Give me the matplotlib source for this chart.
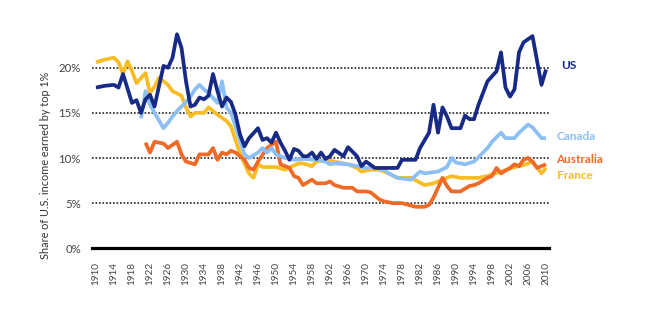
import matplotlib
matplotlib.use("Agg")
import matplotlib.pyplot as plt

plt.rcParams['font.family'] = ['Lato', 'DejaVu Sans']

# top 1% income share (year, percent)
us_years = [1910, 1912, 1914, 1915, 1916, 1918, 1919, 1920, 1921, 1922, 1923, 1925, 1926, 1927,
            1928, 1929, 1930, 1931, 1932, 1933, 1934, 1935, 1936, 1937, 1938, 1939, 1940, 1941,
            1942, 1943, 1944, 1946, 1947, 1948, 1949, 1950, 1951, 1952, 1953, 1954, 1955, 1956,
            1957, 1958, 1959, 1960, 1961, 1962, 1963, 1965, 1966, 1968, 1969, 1970, 1972, 1973,
            1975, 1977, 1978, 1979, 1981, 1982, 1984, 1985, 1986, 1987, 1988, 1989, 1991, 1992,
            1993, 1994, 1995, 1997, 1999, 2000, 2001, 2002, 2003, 2004, 2005, 2007, 2009, 2010]
us_share = [17.8, 18.0, 18.1, 17.8, 19.3, 16.1, 16.4, 15.0, 16.5, 17.0, 15.7, 20.2, 20.0, 21.1,
            23.7, 22.2, 18.5, 15.7, 15.9, 16.7, 16.5, 16.9, 19.3, 17.4, 15.7, 16.7, 16.2, 14.8,
            12.6, 11.3, 12.2, 13.3, 12.0, 12.2, 11.7, 12.8, 11.7, 10.8, 9.8, 11.0, 10.8, 10.2,
            10.2, 10.6, 9.9, 10.6, 9.9, 10.2, 10.9, 10.2, 11.2, 10.2, 9.1, 9.6, 8.9, 8.9,
            8.9, 8.9, 9.8, 9.8, 9.8, 11.1, 12.8, 15.9, 12.8, 15.6, 14.6, 13.3, 13.3, 14.7,
            14.3, 14.3, 15.9, 18.5, 19.6, 21.7, 17.8, 16.8, 17.6, 21.7, 22.8, 23.5, 18.1, 19.8]

canada_years = [1920, 1921, 1922, 1923, 1925, 1926, 1927, 1928, 1929, 1930, 1931, 1932, 1933,
                1934, 1935, 1937, 1938, 1939, 1940, 1941, 1943, 1944, 1946, 1947, 1948, 1949,
                1950, 1952, 1954, 1956, 1959, 1961, 1962, 1963, 1966, 1968, 1970, 1972, 1974,
                1975, 1977, 1980, 1982, 1983, 1986, 1988, 1989, 1990, 1992, 1994, 1995, 1997,
                1998, 2000, 2001, 2003, 2004, 2006, 2007, 2009, 2010]
canada_share = [14.4, 17.4, 15.9, 15.0, 13.3, 13.9, 14.6, 15.2, 15.7, 16.2, 16.8, 17.6, 18.1,
                17.6, 17.2, 16.1, 18.5, 15.6, 15.0, 13.5, 10.4, 10.0, 10.6, 11.1, 10.6, 11.1,
                10.4, 10.0, 9.8, 9.9, 9.8, 9.6, 9.3, 9.4, 9.3, 9.1, 8.9, 8.9, 8.7,
                8.3, 7.8, 7.6, 8.5, 8.3, 8.5, 9.0, 10.0, 9.5, 9.3, 9.6, 10.1, 11.1,
                11.8, 12.8, 12.2, 12.2, 12.8, 13.7, 13.4, 12.2, 12.2]

australia_years = [1921, 1922, 1923, 1925, 1926, 1928, 1929, 1930, 1932, 1933, 1935, 1936, 1937,
                   1938, 1939, 1940, 1941, 1943, 1944, 1945, 1946, 1948, 1950, 1951, 1952, 1953,
                   1954, 1955, 1956, 1958, 1959, 1961, 1962, 1963, 1965, 1967, 1968, 1970, 1971,
                   1972, 1973, 1974, 1976, 1978, 1981, 1983, 1984, 1985, 1986, 1987, 1988, 1989,
                   1991, 1993, 1994, 1995, 1997, 1998, 1999, 2000, 2002, 2003, 2004, 2005, 2006,
                   2007, 2008, 2010]
australia_share = [11.7, 10.6, 11.8, 11.6, 11.1, 11.8, 10.4, 9.6, 9.3, 10.4, 10.4, 11.1, 9.8,
                   10.6, 10.4, 10.8, 10.6, 9.8, 8.9, 8.7, 9.6, 11.1, 11.8, 9.3, 9.1, 8.9,
                   8.0, 7.8, 7.0, 7.6, 7.2, 7.2, 7.4, 7.0, 6.7, 6.7, 6.3, 6.3, 6.2,
                   5.8, 5.4, 5.2, 5.0, 5.0, 4.6, 4.6, 4.8, 5.6, 6.7, 7.8, 6.9, 6.3,
                   6.3, 6.9, 7.0, 7.2, 7.8, 8.0, 8.9, 8.3, 8.9, 9.3, 9.1, 9.8, 10.0,
                   9.6, 8.9, 9.3]

france_years = [1910, 1912, 1914, 1915, 1916, 1917, 1918, 1919, 1921, 1922, 1923, 1924, 1926,
                1927, 1929, 1930, 1931, 1932, 1934, 1935, 1937, 1939, 1940, 1941, 1942, 1944,
                1945, 1946, 1947, 1950, 1952, 1955, 1956, 1958, 1959, 1961, 1963, 1966, 1968,
                1969, 1971, 1973, 1975, 1977, 1980, 1983, 1985, 1987, 1989, 1991, 1993, 1995,
                1997, 1998, 2000, 2003, 2005, 2007, 2009, 2010]
france_share = [20.6, 20.9, 21.1, 20.6, 19.3, 20.7, 19.6, 18.3, 19.4, 17.2, 17.9, 18.9, 18.1,
                17.4, 16.9, 15.6, 14.6, 15.0, 15.0, 15.6, 14.8, 14.1, 13.5, 12.0, 10.5, 8.3,
                7.8, 9.3, 9.0, 9.0, 8.7, 9.4, 9.4, 9.1, 9.6, 9.8, 9.6, 9.3, 8.9,
                8.5, 8.7, 8.7, 8.3, 7.8, 7.8, 7.0, 7.2, 7.6, 8.0, 7.8, 7.8, 7.8,
                8.0, 8.2, 8.5, 9.0, 9.2, 9.6, 8.3, 8.9]

year_ticks = list(range(1910, 2011, 4))
pct_ticks = [0, 5, 10, 15, 20]

navy = '#172a85'
light_blue = '#8cc0f4'
orange = '#ef6a26'
gold = '#f8bd25'

fig = plt.figure(figsize=(6.53, 3.22), dpi=100)
ax = fig.add_axes([92 / 653, 1 - 248.3 / 322, 457 / 653, 24.5 * 9.03 / 322])

line_kw = dict(lw=2.7, solid_joinstyle='round', solid_capstyle='butt')
ax.plot(france_years, france_share, color=gold, **line_kw)
ax.plot(australia_years, australia_share, color=orange, **line_kw)
ax.plot(canada_years, canada_share, color=light_blue, **line_kw)
ax.plot(us_years, us_share, color=navy, **line_kw)

ax.set_xlim(1910 - 4 / 4.5, 2010 + 3 / 4.5)
ax.set_ylim(0, 24.5)

for p in pct_ticks[1:]:
    ax.axhline(p, color='#222222', lw=1.2, ls=(0, (1, 1.1)), zorder=0)
ax.axhline(0, color='black', lw=2.3, zorder=5, clip_on=False)

ax.set_yticks(pct_ticks)
ax.set_yticklabels([f'{p}%' for p in pct_ticks], fontsize=8.2, color='#444444')
ax.set_xticks(year_ticks)
ax.set_xticklabels([str(y) for y in year_ticks], rotation=90, fontsize=7.2, color='#444444')
ax.tick_params(length=0, axis='y', pad=8)
ax.tick_params(length=0, axis='x', pad=10)

for s in ax.spines.values():
    s.set_visible(False)

fig.text(46 / 653, 1 - 165 / 322, 'Share of U.S. income earned by top 1%', rotation=90,
         ha='center', va='center', fontsize=7.8, color='#333333')

ax.text(2013.3, 20.2, 'US', color=navy, fontsize=8.5, fontweight='bold', va='center', clip_on=False)
ax.text(2012.4, 12.4, 'Canada', color=light_blue, fontsize=8.5, fontweight='bold', va='center', clip_on=False)
ax.text(2012.2, 9.8, 'Australia', color=orange, fontsize=8.5, fontweight='bold', va='center', clip_on=False)
ax.text(2012.4, 8.1, 'France', color=gold, fontsize=8.5, fontweight='bold', va='center', clip_on=False)

fig.savefig('out.png', dpi=100, facecolor='white')
